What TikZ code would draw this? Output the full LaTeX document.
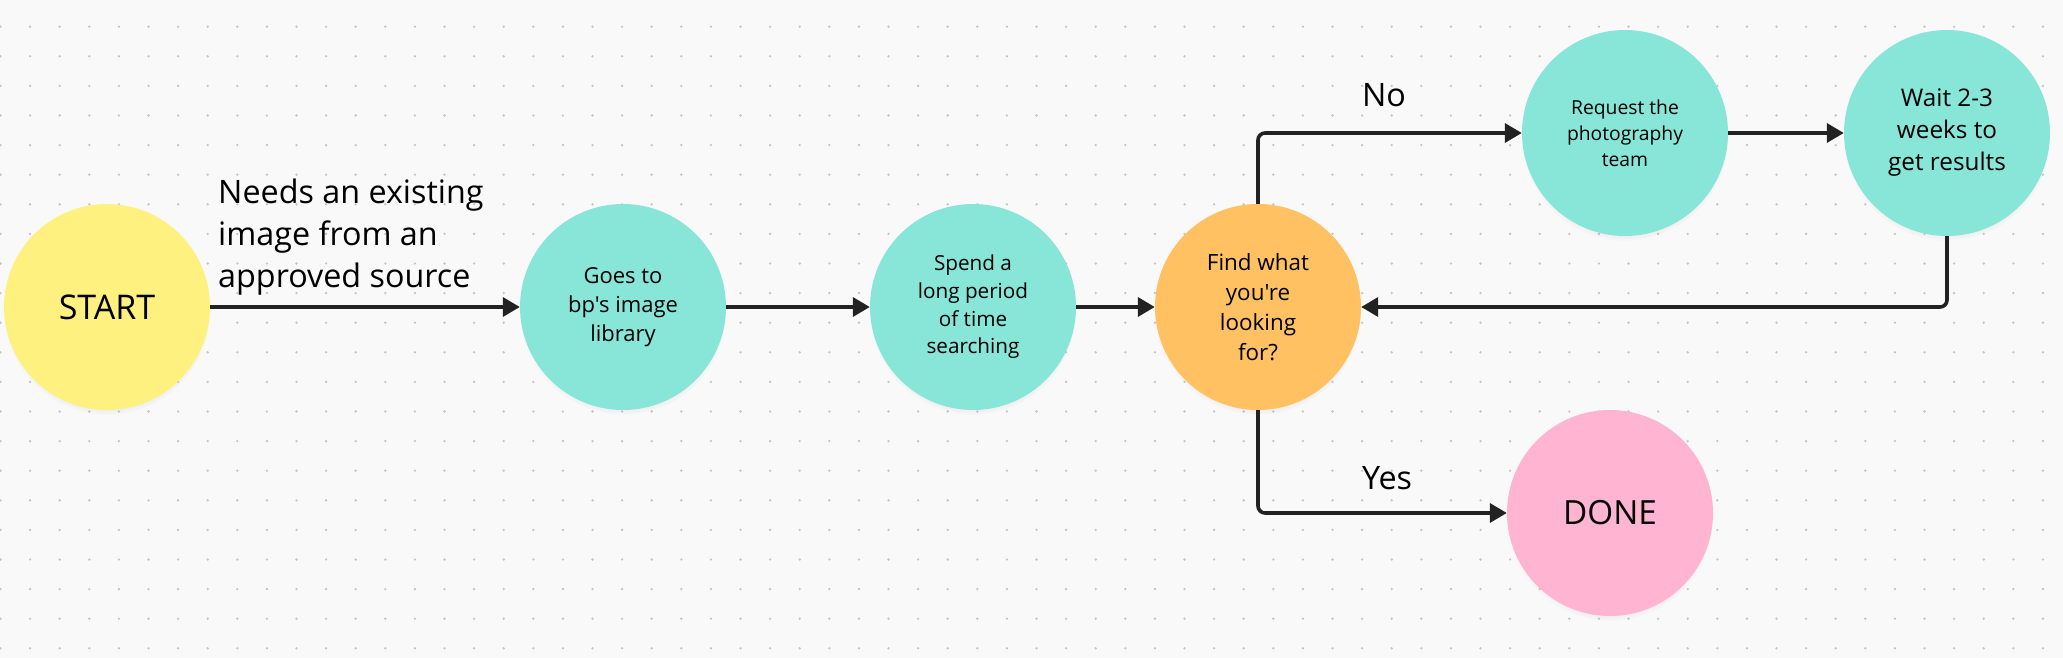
\documentclass[tikz,border=0pt]{standalone}
\usepackage{fontspec}
\setmainfont{Open Sans}[Ligatures=TeXOff]
\usetikzlibrary{arrows.meta,shadows,fadings}
\definecolor{bgc}{HTML}{F9F9F9}
\definecolor{dotc}{HTML}{C4C4C4}
\definecolor{yelc}{HTML}{FFF180}
\definecolor{tealc}{HTML}{88E6D9}
\definecolor{orngc}{HTML}{FFC162}
\definecolor{pnkc}{HTML}{FFB4D2}
\definecolor{ink}{HTML}{222222}
\begin{document}
\begin{tikzpicture}[x=1pt,y=-1pt,
  bub/.style={circle, minimum size=206pt, inner sep=0pt, align=center, text=black,
    circular drop shadow={shadow xshift=0pt, shadow yshift=-5pt, shadow scale=1.0, opacity=0.18, fill=black!60}},
  arr/.style={draw=ink, line width=3.6pt, -{Triangle[length=17pt,width=19pt]}, rounded corners=7pt},
  lbl/.style={text=black, inner sep=0pt},
  fbig/.style={font=\fontsize{32.3}{42}\selectfont},
]
\useasboundingbox (0,0) rectangle (2063,658);
\fill[bgc] (0,0) rectangle (2063,658);
\foreach \i in {0,...,69}{
  \foreach \j in {0,...,21}{
    \fill[dotc] (0.5+29.6*\i, 26.7+29.6*\j) circle (1.3pt);
  }
}
\node[bub, fill=yelc, font=\fontsize{34}{40}\selectfont] (start) at (107,307) {START};
\node[bub, fill=tealc, font=\fontsize{22}{29}\selectfont] (goes) at (623,307) {Goes to\\bp's image\\library};
\node[bub, fill=tealc, font=\fontsize{20.7}{27.7}\selectfont] (spend) at (973,307) {Spend a\\long period\\of time\\searching};
\node[bub, fill=orngc, font=\fontsize{22.4}{30}\selectfont] (find) at (1258,307) {Find what\\you're\\looking\\for?};
\node[bub, fill=tealc, font=\fontsize{19.3}{26}\selectfont] (req) at (1625,133) {Request the\\photography\\team};
\node[bub, fill=tealc, font=\fontsize{24.3}{32}\selectfont] (wait) at (1947,133) {Wait 2-3\\weeks to\\get results};
\node[bub, fill=pnkc, font=\fontsize{33.3}{40}\selectfont] (done) at (1610,513) {DONE};

\draw[arr] (start) -- (goes);
\draw[arr] (goes) -- (spend);
\draw[arr] (spend) -- (find);
\draw[arr] (find.north) |- (req.west);
\draw[arr] (req) -- (wait);
\draw[arr] (wait.south) |- (find.east);
\draw[arr] (find.south) |- (done.west);

\node[lbl, fbig, align=left, anchor=base west] (need) at (218,287) {Needs an existing\\image from an\\approved source};
\node[lbl, fbig, anchor=base] (no) at (1384,107) {No};
\node[lbl, fbig, anchor=base] (yes) at (1387,489) {Yes};
\end{tikzpicture}
\end{document}
